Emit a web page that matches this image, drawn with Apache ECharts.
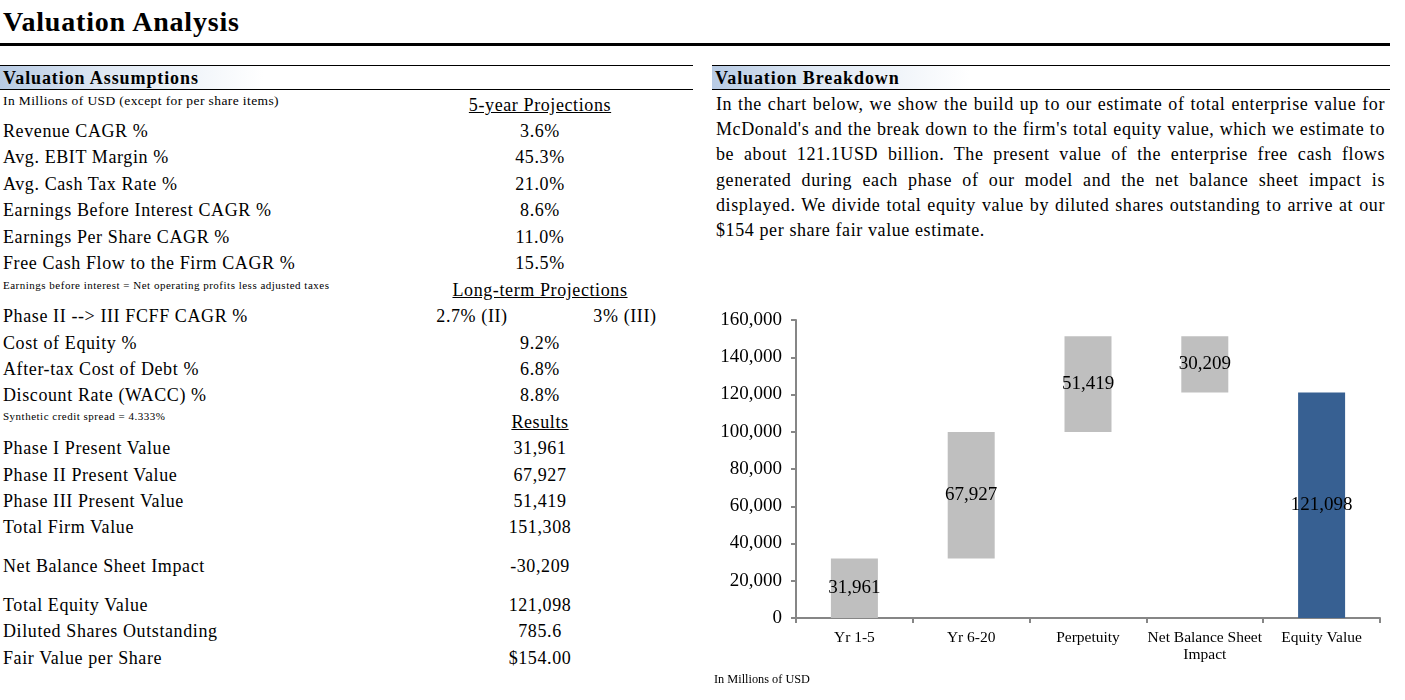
<!DOCTYPE html>
<html>
<head>
    <meta charset="UTF-8"/>
    <title>Valuation Analysis</title>
    <script src="https://cdn.jsdelivr.net/npm/echarts@6.0.0/dist/echarts.min.js"></script>
    <style>
        html, body { margin: 0; padding: 0; background: #fff; }
        body { width: 1405px; height: 700px; position: relative; overflow: hidden;
               font-family: "Liberation Serif", "DejaVu Serif", serif; color: #000; }
        .abs { position: absolute; white-space: nowrap; line-height: 20px; }
        .title { left: 3px; top: 5px; font-size: 28px; font-weight: bold; line-height: 34px; letter-spacing: 0.8px; }
        .rule-thick { position: absolute; left: 0; top: 43px; width: 1390px; height: 3px; background: #000; }
        .sec-head { position: absolute; top: 65px; height: 23px; border-top: 1px solid #000;
                    border-bottom: 1.5px solid #000;
                    background: linear-gradient(to right, #b8cbe4 0%, #dfe8f3 15%, #ffffff 38%); }
        .sec-head span { position: absolute; left: 3px; top: 2px; font-size: 18px; font-weight: bold;
                         line-height: 20px; letter-spacing: 0.9px; }
        .lbl { left: 3px; font-size: 18px; letter-spacing: 0.6px; }
        .small { left: 3px; font-size: 13.5px; letter-spacing: 0.4px; }
        .tiny { left: 3px; font-size: 11px; letter-spacing: 0.5px; }
        .val { font-size: 18px; letter-spacing: 0.6px; transform: translateX(-50%); }
        .u { text-decoration: underline; }
        .para { position: absolute; left: 716px; width: 669px; font-size: 18px; letter-spacing: 0.6px;
                line-height: 25.2px; top: 92px; }
        .para div { text-align: justify; text-align-last: justify; white-space: nowrap; }
        .para div.last { text-align-last: left; }
        #chart { position: absolute; left: 700px; top: 300px; width: 705px; height: 370px; }
        .note { left: 714px; top: 669px; font-size: 12.3px; }
    </style>
</head>
<body>
<div class="abs title">Valuation Analysis</div>
<div class="rule-thick"></div>

<div class="sec-head" style="left:0;width:693px;"><span>Valuation Assumptions</span></div>
<div class="sec-head" style="left:712px;width:678px;"><span>Valuation Breakdown</span></div>

<div id="table"></div>

<div class="para" id="para"></div>

<div id="chart"></div>
<div class="abs note">In Millions of USD</div>

<script type="text/javascript">
    // 图表数据
    const categories = ["Yr 1-5", "Yr 6-20", "Perpetuity", "Net Balance Sheet\nImpact", "Equity Value"];
    const stepValues = [31961, 67927, 51419, -30209, 121098];
    const totalFlags = [false, false, false, false, true];
    const yTicks = [0, 20000, 40000, 60000, 80000, 100000, 120000, 140000, 160000];

    // 左侧表格: [文字, 数值, 行中心y, 样式]
    const tableRows = [
        ["In Millions of USD (except for per share items)", "", 101, "small"],
        ["Revenue CAGR %", "3.6%", 131, "lbl"],
        ["Avg. EBIT Margin %", "45.3%", 157, "lbl"],
        ["Avg. Cash Tax Rate %", "21.0%", 184, "lbl"],
        ["Earnings Before Interest CAGR %", "8.6%", 210, "lbl"],
        ["Earnings Per Share CAGR %", "11.0%", 237, "lbl"],
        ["Free Cash Flow to the Firm CAGR %", "15.5%", 263, "lbl"],
        ["Earnings before interest = Net operating profits less adjusted taxes", "", 285, "tiny"],
        ["Phase II --> III FCFF CAGR %", "", 316, "lbl"],
        ["Cost of Equity %", "9.2%", 343, "lbl"],
        ["After-tax Cost of Debt %", "6.8%", 369, "lbl"],
        ["Discount Rate (WACC) %", "8.8%", 395, "lbl"],
        ["Synthetic credit spread = 4.333%", "", 416, "tiny"],
        ["Phase I Present Value", "31,961", 448, "lbl"],
        ["Phase II Present Value", "67,927", 475, "lbl"],
        ["Phase III Present Value", "51,419", 501, "lbl"],
        ["Total Firm Value", "151,308", 527, "lbl"],
        ["Net Balance Sheet Impact", "-30,209", 566, "lbl"],
        ["Total Equity Value", "121,098", 605, "lbl"],
        ["Diluted Shares Outstanding", "785.6", 631, "lbl"],
        ["Fair Value per Share", "$154.00", 658, "lbl"]
    ];
    // 小标题: [文字, 中心x, 中心y, 下划线]
    const colHeads = [
        ["5-year Projections", 540, 105, true],
        ["Long-term Projections", 540, 290, true],
        ["Results", 540, 422, true],
        ["2.7% (II)", 472, 316, false],
        ["3% (III)", 625, 316, false]
    ];
    const paraLines = [
        "In the chart below, we show the build up to our estimate of total enterprise value for",
        "McDonald's and the break down to the firm's total equity value, which we estimate to",
        "be about 121.1USD billion. The present value of the enterprise free cash flows",
        "generated during each phase of our model and the net balance sheet impact is",
        "displayed. We divide total equity value by diluted shares outstanding to arrive at our",
        "$154 per share fair value estimate."
    ];

    const table = document.getElementById("table");
    tableRows.forEach(function (r) {
        const d = document.createElement("div");
        d.className = "abs " + r[3];
        d.style.top = (r[2] - 10) + "px";
        d.textContent = r[0];
        table.appendChild(d);
        if (r[1]) {
            const v = document.createElement("div");
            v.className = "abs val";
            v.style.left = "540px";
            v.style.top = (r[2] - 10) + "px";
            v.textContent = r[1];
            table.appendChild(v);
        }
    });
    colHeads.forEach(function (h) {
        const d = document.createElement("div");
        d.className = "abs val" + (h[3] ? " u" : "");
        d.style.left = h[1] + "px";
        d.style.top = (h[2] - 10) + "px";
        d.textContent = h[0];
        table.appendChild(d);
    });
    const para = document.getElementById("para");
    paraLines.forEach(function (t, i) {
        const d = document.createElement("div");
        if (i === paraLines.length - 1) d.className = "last";
        d.textContent = t;
        para.appendChild(d);
    });

    // 瀑布图: 透明底座 + 可见柱
    const baseData = [];
    const barData = [];
    let running = 0;
    stepValues.forEach(function (v, i) {
        if (totalFlags[i]) {
            baseData.push(0);
            barData.push({value: v, itemStyle: {color: "#376092"}});
            running = v;
        } else if (v >= 0) {
            baseData.push(running);
            barData.push({value: v, itemStyle: {color: "#bfbfbf"}});
            running += v;
        } else {
            running += v;
            baseData.push(running);
            barData.push({value: -v, itemStyle: {color: "#bfbfbf"}});
        }
    });

    const fmt = function (n) { return Math.abs(n).toLocaleString("en-US"); };
    const serif = "Liberation Serif";
    const chart = echarts.init(document.getElementById("chart"), null, {renderer: "canvas"});
    chart.setOption({
        animation: false,
        grid: {left: 96, right: 25, top: 20, bottom: 52},
        xAxis: {
            type: "category",
            data: categories,
            axisLine: {lineStyle: {color: "#868686", width: 2}},
            axisTick: {show: true, length: 5, lineStyle: {color: "#868686", width: 2}},
            axisLabel: {color: "#000", fontFamily: serif, fontSize: 15.5, margin: 11, lineHeight: 17, interval: 0}
        },
        yAxis: {
            type: "value",
            min: yTicks[0],
            max: yTicks[yTicks.length - 1],
            interval: yTicks[1] - yTicks[0],
            splitLine: {show: false},
            axisLine: {show: true, lineStyle: {color: "#868686", width: 2}},
            axisTick: {show: true, length: 5, lineStyle: {color: "#868686", width: 2}},
            axisLabel: {color: "#000", fontFamily: serif, fontSize: 19, margin: 14, formatter: fmt}
        },
        series: [{
            type: "bar",
            stack: "wf",
            data: baseData,
            itemStyle: {color: "transparent"},
            silent: true
        }, {
            type: "bar",
            stack: "wf",
            barWidth: 47,
            data: barData,
            label: {
                show: true,
                position: "inside",
                color: "#000",
                fontFamily: serif,
                fontSize: 19,
                formatter: function (p) { return fmt(stepValues[p.dataIndex]); }
            }
        }]
    });
</script>
</body>
</html>
